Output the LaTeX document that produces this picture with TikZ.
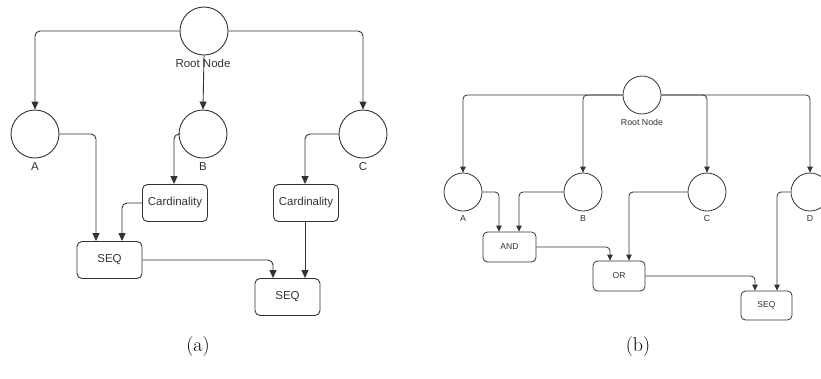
\documentclass[tikz,border=0pt]{standalone}
\usepackage{fontspec}
\newfontfamily\arialf{Liberation Sans}
\usetikzlibrary{arrows.meta,calc}
\definecolor{ln}{HTML}{333333}
\tikzset{
  circa/.style={circle,draw=ln,line width=0.9pt,minimum size=48pt,inner sep=0pt},
  circb/.style={circle,draw=ln,line width=0.8pt,minimum size=38pt,inner sep=0pt},
  boxa/.style={rectangle,rounded corners=5pt,draw=ln,line width=0.9pt,minimum width=65pt,minimum height=37pt,inner sep=0pt,font=\arialf\fontsize{11.5}{13}\selectfont,text=black!80},
  boxb/.style={rectangle,rounded corners=4.5pt,draw=ln,line width=0.8pt,minimum width=52pt,minimum height=30pt,inner sep=0pt,font=\arialf\fontsize{8.6}{10}\selectfont,text=black!80},
  lbla/.style={inner sep=0pt,font=\arialf\fontsize{11.5}{13}\selectfont,text=black!80},
  lblb/.style={inner sep=0pt,font=\arialf\fontsize{8.8}{10}\selectfont,text=black!80},
  conna/.style={draw=ln,line width=0.9pt,rounded corners=5pt,-{Triangle[length=8pt,width=7pt]}},
  connb/.style={draw=ln,line width=0.8pt,rounded corners=4pt,-{Triangle[length=6pt,width=5.5pt]}},
  capt/.style={inner sep=0pt,font=\fontsize{20}{24}\selectfont}
}
\begin{document}
\begin{tikzpicture}[x=1pt,y=-1pt]
\useasboundingbox (0,0) rectangle (821,378);
% ---------- panel (a)
\node[circa] (ra) at (204,31) {};
\node[lbla] (ralab) at (203,63) {Root Node};
\node[circa] (Aa) at (35,134) {};
\node[circa] (Ba) at (203,134) {};
\node[circa] (Ca) at (363,134) {};
\node[lbla] (Aalab) at (35,167) {A};
\node[lbla] (Balab) at (203,167) {B};
\node[lbla] (Calab) at (363,167) {C};
\node[boxa] (card1) at (175,203) {Cardinality};
\node[boxa] (card2) at (306,203) {Cardinality};
\node[boxa] (seq1) at (109.5,260) {SEQ};
\node[boxa] (seq2) at (287.5,297) {SEQ};
\draw[conna] (ra.west) -| (Aa.north);
\draw[conna] (ra.south) -- (Ba.north);
\draw[conna] (ra.east) -| (Ca.north);
\draw[conna] (Aa.east) -| ([xshift=-13.5pt]seq1.north);
\draw[conna] (Ba.west) -| ([xshift=-1pt]card1.north);
\draw[conna] (card1.west) -| ([xshift=12.5pt]seq1.north);
\draw[conna] (Ca.west) -| ([xshift=-1pt]card2.north);
\draw[conna] ([xshift=-1pt]card2.south) -- ([xshift=17.5pt]seq2.north);
\draw[conna] (seq1.east) -| ([xshift=-14.5pt]seq2.north);
% ---------- panel (b)
\node[circb] (rb) at (642,95) {};
\node[lblb] (rblab) at (642,122) {Root Node};
\node[circb] (Ab) at (463,192) {};
\node[circb] (Bb) at (583,192) {};
\node[circb] (Cb) at (707,192) {};
\node[circb] (Db) at (810,192) {};
\node[lblb] (Ablab) at (463,218) {A};
\node[lblb] (Bblab) at (583,218) {B};
\node[lblb] (Cblab) at (707,218) {C};
\node[lblb] (Dblab) at (810,218) {D};
\node[boxb,minimum width=53pt] (and) at (509.5,247) {AND};
\node[boxb] (or) at (619,276) {OR};
\node[boxb,minimum width=51pt,minimum height=29pt] (seqb) at (766.5,305.5) {SEQ};
\draw[connb] (rb.west) -| (Ab.north);
\draw[connb] (rb.west) -| (Bb.north);
\draw[connb] (rb.east) -| (Cb.north);
\draw[connb] (rb.east) -| (Db.north);
\draw[connb] (Ab.east) -| ([xshift=-10.5pt]and.north);
\draw[connb] (Bb.west) -| ([xshift=9.5pt]and.north);
\draw[connb] (and.east) -| ([xshift=-9pt]or.north);
\draw[connb] (Cb.west) -| ([xshift=10pt]or.north);
\draw[connb] (or.east) -| ([xshift=-11.5pt]seqb.north);
\draw[connb] (Db.west) -| ([xshift=10.5pt]seqb.north);
% ---------- captions
\node[capt] (capa) at (198,347) {(a)};
\node[capt] (capb) at (638,347) {(b)};
\end{tikzpicture}
\end{document}
